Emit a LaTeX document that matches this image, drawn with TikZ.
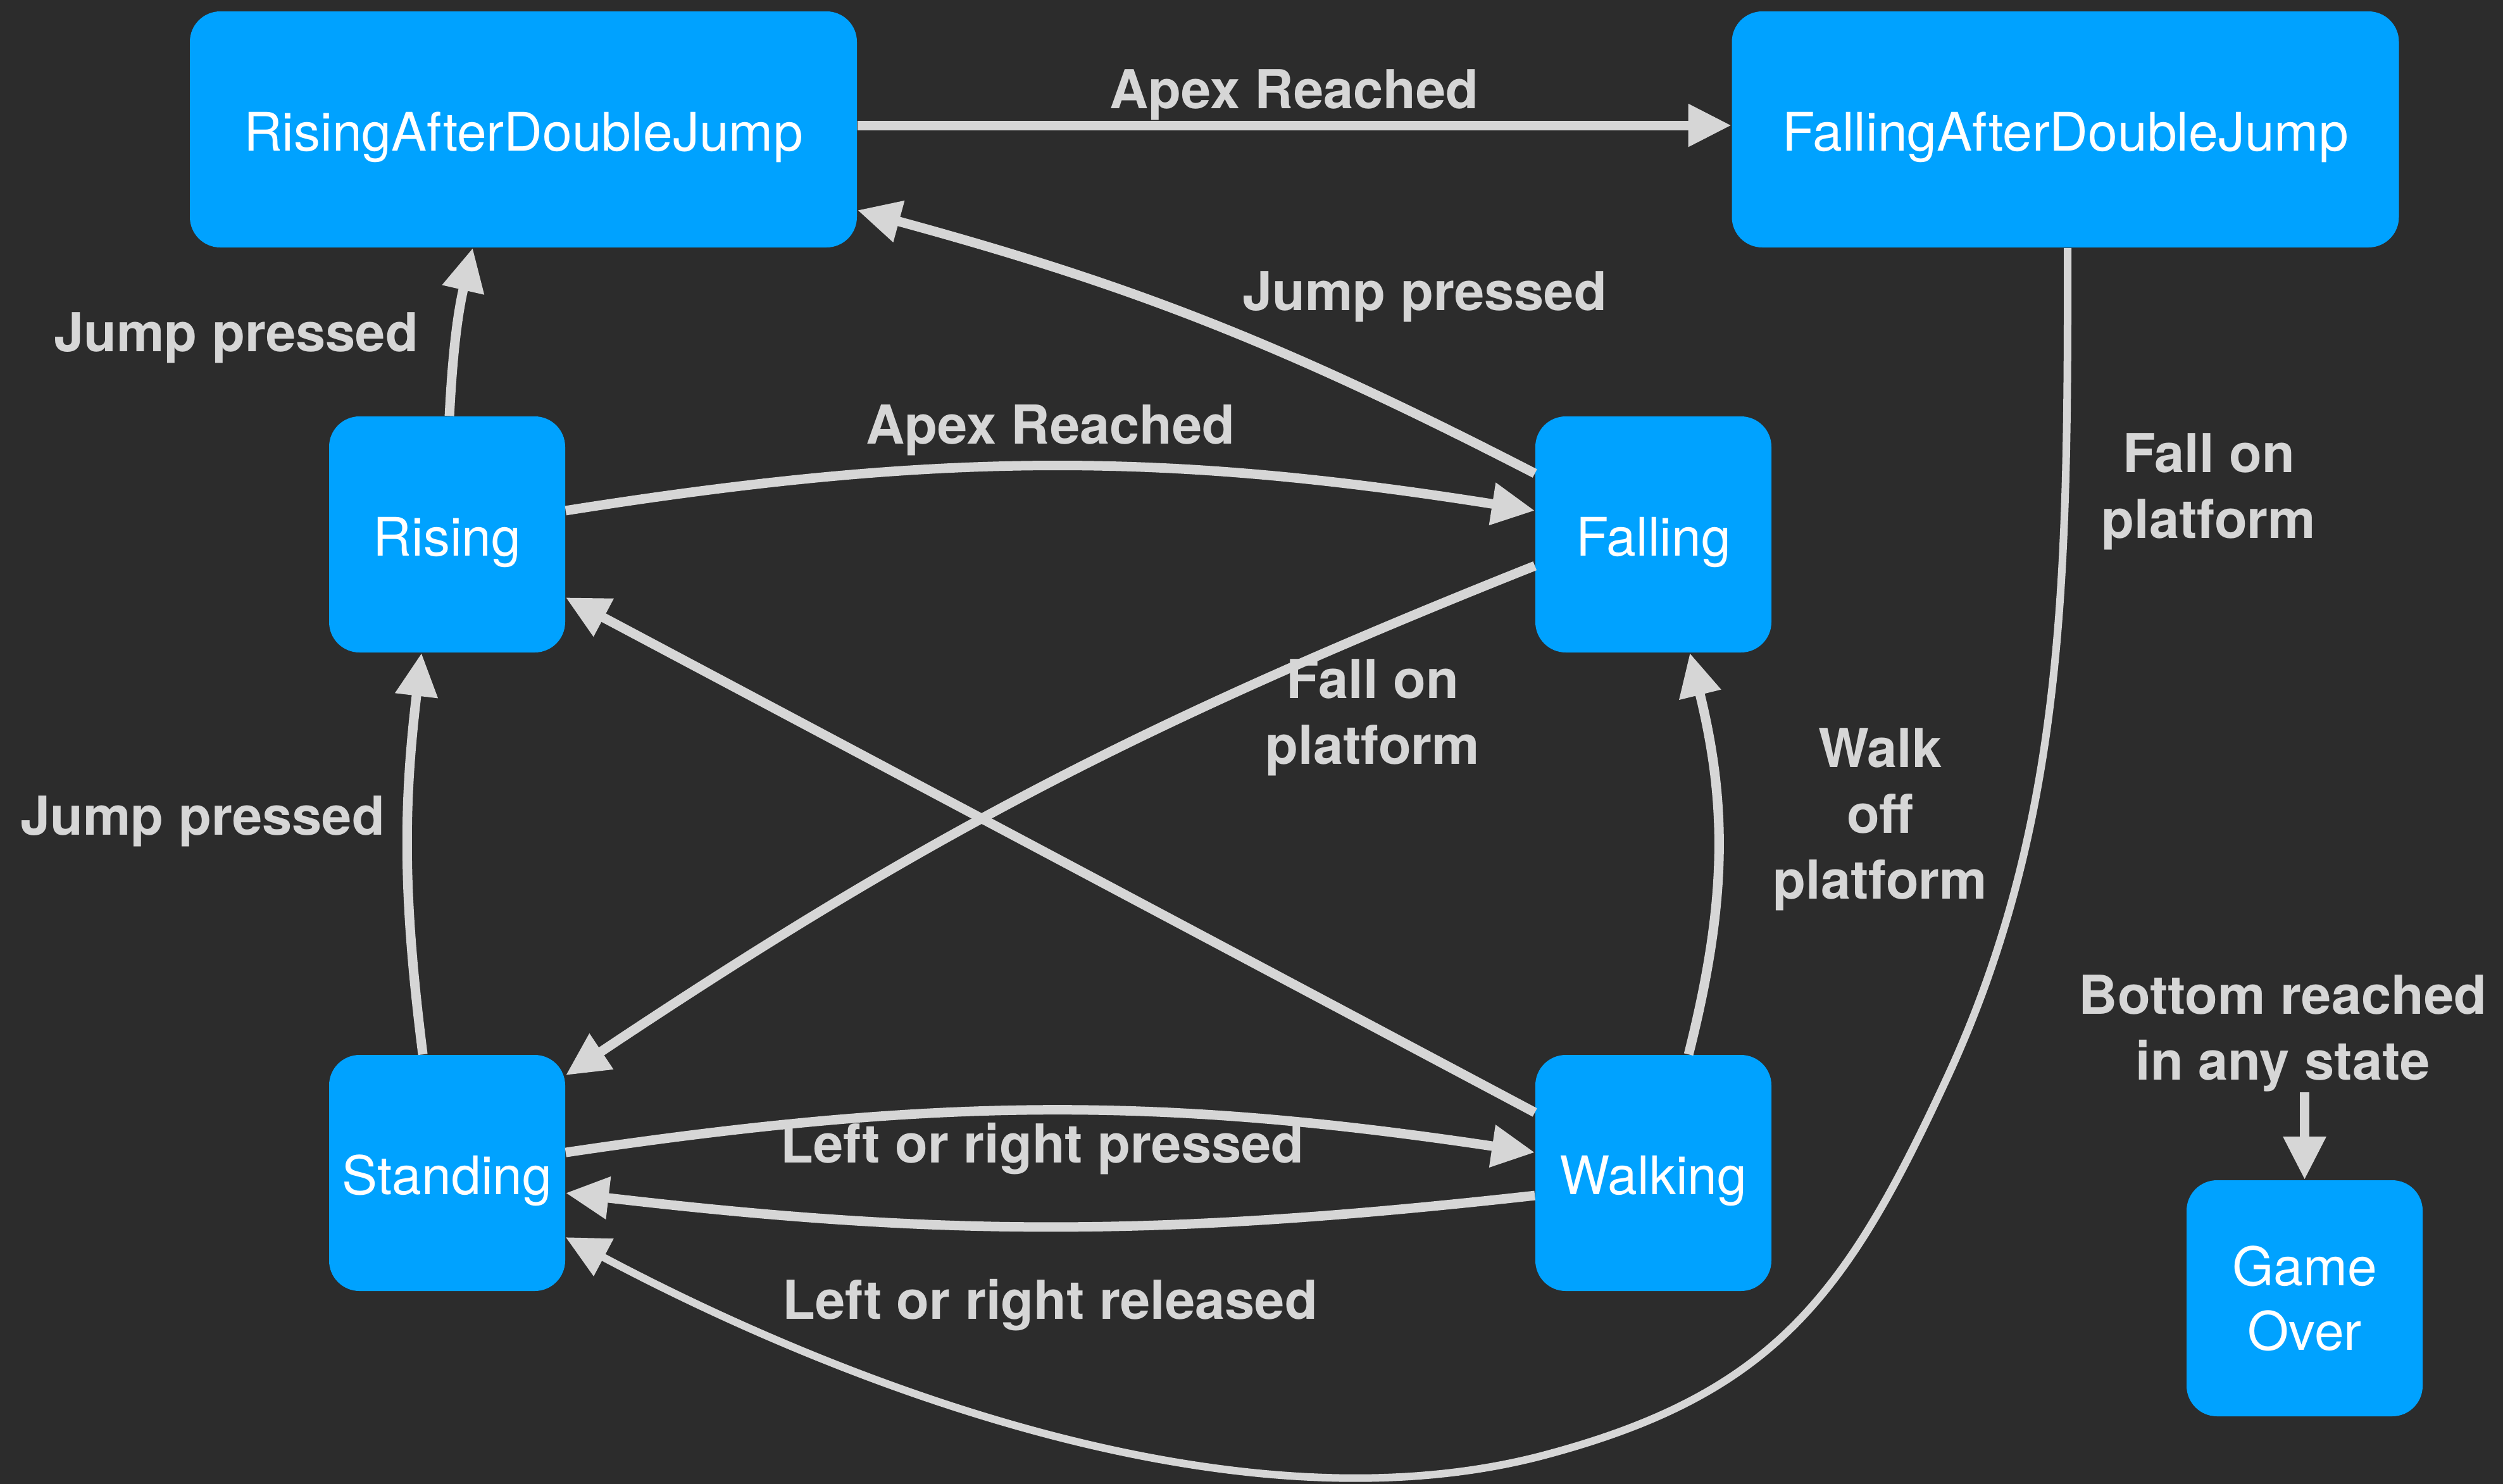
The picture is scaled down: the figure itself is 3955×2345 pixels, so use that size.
\documentclass[tikz,border=0pt]{standalone}
\usepackage{fontspec}
\setmainfont{TeX Gyre Heros}
\usetikzlibrary{arrows.meta}
\definecolor{bgc}{HTML}{2C2C2C}
\definecolor{nodec}{HTML}{00A2FF}
\definecolor{linec}{HTML}{D6D6D6}
\begin{document}
\begin{tikzpicture}[x=0.25pt,y=-0.25pt,
  statebox/.style={fill=nodec, rounded corners=12pt, text=white, inner sep=0pt, align=center,
    font=\fontsize{21}{25.5}\selectfont},
  oneline/.style={text height=16.8pt, text depth=0pt},
  smallstate/.style={statebox, minimum width=93.25pt, minimum height=93.25pt},
  widestate/.style={statebox, oneline, minimum width=263.5pt, minimum height=93.25pt},
  lbl/.style={text=linec, inner sep=0pt, align=center, font=\fontsize{21.2}{26}\selectfont\bfseries},
  conn/.style={draw=linec, line width=3.75pt, -{Triangle[length=17pt,width=16pt]}},
  thinconn/.style={conn, line width=3pt}]

\fill[bgc] (0,0) rectangle (3955,2345);
\useasboundingbox (0,0) rectangle (3955,2345);

% states
\node[widestate] (radj) at (827,204.5) {RisingAfterDoubleJump};
\node[widestate] (fadj) at (3263.5,204.5) {FallingAfterDoubleJump};
\node[smallstate, oneline] (rising) at (706.5,844.5) {Rising};
\node[smallstate, oneline] (falling) at (2612.5,844.5) {Falling};
\node[smallstate, oneline] (standing) at (706.5,1853.5) {Standing};
\node[smallstate, oneline] (walking) at (2612.5,1853.5) {Walking};
\node[smallstate] (gameover) at (3641.5,2051.5) {Game\\Over};

% labels
\node[lbl] (lapex1) at (2045,150) {Apex Reached};
\node[lbl] (ljump1) at (373,534) {Jump pressed};
\node[lbl] (ljump2) at (2251,469) {Jump pressed};
\node[lbl] (lapex2) at (1660,680) {Apex Reached};
\node[lbl] (lfall1) at (3490,776.5) {Fall on\\platform};
\node[lbl] (lfall2) at (2169,1134) {Fall on\\platform};
\node[lbl] (lwalk) at (2971,1295) {Walk\\off\\platform};
\node[lbl] (ljump3) at (320,1298) {Jump pressed};
\node[lbl] (lbottom) at (3607,1632.5) {Bottom reached\\in any state};
\node[lbl] (llrp) at (1647,1815) {Left or right pressed};
\node[lbl] (llrr) at (1659,2062) {Left or right released};

% connectors
\draw[conn] ([yshift=1.6pt]radj.east) -- ([yshift=1.6pt]fadj.west);
\draw[conn] ([xshift=0.9pt]rising.north) to[bend left=5] ([xshift=-20pt]radj.south);
\draw[conn] ([yshift=24.1pt]falling.west) to[bend right=6] ([yshift=-31.9pt]radj.east);
\draw[conn] ([yshift=9.4pt]rising.east) to[bend left=9] ([yshift=9.4pt]falling.west);
\draw[conn] ([yshift=-12.4pt]falling.west) to[bend right=6] ([yshift=38.6pt]standing.east);
\draw[conn] ([yshift=23.9pt]walking.west) -- ([yshift=-24.9pt]rising.east);
\draw[conn] ([xshift=-9.6pt]standing.north) to[bend left=7] ([xshift=-10.1pt]rising.south);
\draw[conn] ([xshift=13.9pt]walking.north) to[bend right=14] ([xshift=14.4pt]falling.south);
\draw[conn] ([yshift=8.1pt]standing.east) to[bend left=8.5] ([yshift=8.1pt]walking.west);
\draw[conn] ([yshift=-8.9pt]walking.west) to[bend left=6.5] ([yshift=-7.9pt]standing.east);

\coordinate (fa) at (3078,1700);
\coordinate (fb) at (2438,2300);
\draw[thinconn] ([xshift=0.9pt]fadj.south) .. controls (3267,891) and (3267,1290) .. (fa)
  .. controls (2918,2046) and (2805,2203) .. (fb)
  .. controls (1954,2427) and (1336,2190) .. ([yshift=-25.4pt]standing.east);

\draw[conn] (lbottom.south -| gameover.north) -- (gameover.north);
\end{tikzpicture}
\end{document}
